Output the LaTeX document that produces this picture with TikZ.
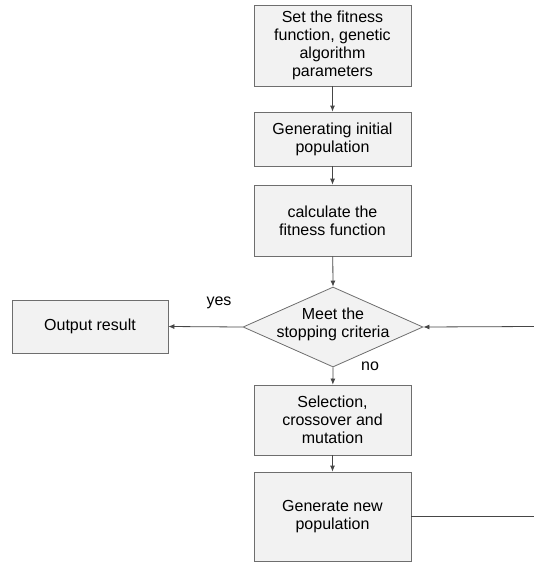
\documentclass[tikz,border=0pt]{standalone}
\usepackage{fontspec}
\setmainfont{Liberation Sans}
\usetikzlibrary{arrows.meta,shapes.geometric}
\definecolor{boxfill}{RGB}{242,242,242}
\definecolor{boxline}{RGB}{110,110,110}
\definecolor{arrowc}{RGB}{70,70,70}
\begin{document}
\begin{tikzpicture}[x=1pt,y=-1pt,
  every node/.style={font=\fontsize{16}{18}\selectfont},
  stepbox/.style={draw=boxline,fill=boxfill,line width=0.8pt,align=center,inner sep=0pt},
  arr/.style={draw=arrowc,line width=0.8pt,-{Latex[length=6pt,width=5pt]}},
  ln/.style={draw=arrowc,line width=0.8pt}]
\useasboundingbox (0,0) rectangle (534,562);
\node[stepbox,minimum width=157pt,minimum height=81pt] (b1) at (332.5,45.5) {Set the fitness\\function, genetic\\algorithm\\parameters};
\node[stepbox,minimum width=157pt,minimum height=54pt] (b2) at (332.5,139) {Generating initial\\population};
\node[stepbox,minimum width=157pt,minimum height=71pt] (b3) at (332.5,220.5) {calculate the\\fitness function};
\node[diamond,draw=boxline,fill=boxfill,line width=0.8pt,aspect=2.25,minimum width=180pt,minimum height=80pt,inner sep=0pt,align=center] (d) at (333,327) {};
\node[align=center] at (333,324) {Meet the\\stopping criteria};
\node[stepbox,minimum width=156pt,minimum height=53pt] (out) at (90,326.5) {Output result};
\node[stepbox,minimum width=157pt,minimum height=70pt] (b4) at (332.5,420) {Selection,\\crossover and\\mutation};
\node[stepbox,minimum width=157pt,minimum height=89pt] (b5) at (332.5,516.5) {Generate new\\population};
\node at (219,303) {yes};
\node at (370,366) {no};
\coordinate (r1) at (534,326.5);
\coordinate (r2) at (534,516);
\draw[arr] (b1) -- (b2);
\draw[arr] (b2) -- (b3);
\draw[arr] (b3) -- (d.north);
\draw[arr] (d.west) -- (out.east);
\draw[arr] (d.south) -- (b4);
\draw[arr] (b4) -- (b5);
\draw[arr] (r1) -- (d.east);
\draw[ln] (b5.east |- r2) -- (r2);
\end{tikzpicture}
\end{document}
